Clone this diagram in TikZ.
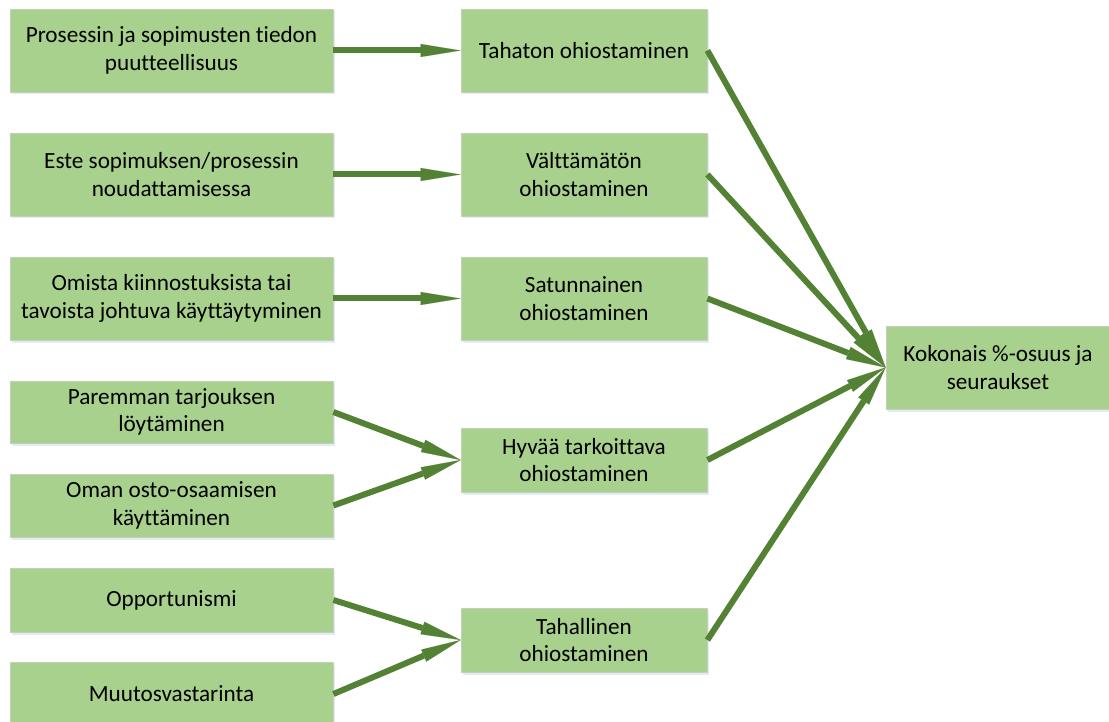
\documentclass[tikz,border=0pt]{standalone}
\usepackage{fontspec}
\setmainfont{Carlito}[Ligatures=NoCommon]
\usetikzlibrary{arrows.meta,shadows}
\definecolor{boxfill}{RGB}{169,209,142}
\definecolor{boxline}{RGB}{196,208,186}
\definecolor{arrowgreen}{RGB}{84,130,53}
\definecolor{shadowblue}{RGB}{185,205,235}
\tikzset{
  box/.style={rectangle, fill=boxfill, draw=boxline, line width=0.8pt,
    inner sep=0pt, align=center,
    font=\fontsize{23.2}{27.5}\selectfont,
    drop shadow={shadow xshift=1.5pt, shadow yshift=-2.5pt, fill=shadowblue, opacity=0.4}},
  leftbox/.style={box, minimum width=323pt},
  midbox/.style={box, minimum width=246pt},
  link/.style={draw=arrowgreen, line width=6pt,
    -{Triangle[length=40pt, width=13pt, line width=0.1pt, fill=arrowgreen]}},
}
\begin{document}
\begin{tikzpicture}[x=1pt, y=-1pt]
\useasboundingbox (0,0) rectangle (1109,722);
\clip (0,0) rectangle (1109,722);

% causes (left column)
\node[leftbox, minimum height=83pt] (c1) at (171.5,50.5) {Prosessin ja sopimusten tiedon\\puutteellisuus};
\node[leftbox, minimum height=83pt] (c2) at (171.5,174.5) {Este sopimuksen/prosessin\\noudattamisessa};
\node[leftbox, minimum height=83pt] (c3) at (171.5,298.5) {Omista kiinnostuksista tai\\tavoista johtuva käyttäytyminen};
\node[leftbox, minimum height=62pt] (c4) at (171.5,412) {Paremman tarjouksen\\löytäminen};
\node[leftbox, minimum height=63pt] (c5) at (171.5,505.5) {Oman osto-osaamisen\\käyttäminen};
\node[leftbox, minimum height=64pt] (c6) at (171.5,600) {Opportunismi};
\node[leftbox, minimum height=64pt] (c7) at (171.5,694) {Muutosvastarinta};

% types of deviation (middle column)
\node[midbox, minimum height=83pt] (t1) at (584,50.5) {Tahaton ohiostaminen};
\node[midbox, minimum height=83pt] (t2) at (584,174.5) {Välttämätön\\ohiostaminen};
\node[midbox, minimum height=83pt] (t3) at (584,298.5) {Satunnainen\\ohiostaminen};
\node[midbox, minimum height=64pt] (t4) at (584,460) {Hyvää tarkoittava\\ohiostaminen};
\node[midbox, minimum height=64pt] (t5) at (584,640) {Tahallinen\\ohiostaminen};

% result
\node[box, minimum width=224pt, minimum height=83pt] (res) at (998,367.5) {Kokonais \%-osuus ja\\seuraukset};

% causes -> types
\draw[link] (c1.east) -- (t1.west);
\draw[link] (c2.east) -- (t2.west);
\draw[link] (c3.east) -- (t3.west);
\draw[link] (c4.east) -- (t4.west);
\draw[link] (c5.east) -- (t4.west);
\draw[link] (c6.east) -- (t5.west);
\draw[link] (c7.east) -- (t5.west);

% types -> result
\foreach \t in {t1,t2,t3,t4,t5}
  \draw[link] (\t.east) -- (res.west);
\end{tikzpicture}
\end{document}
